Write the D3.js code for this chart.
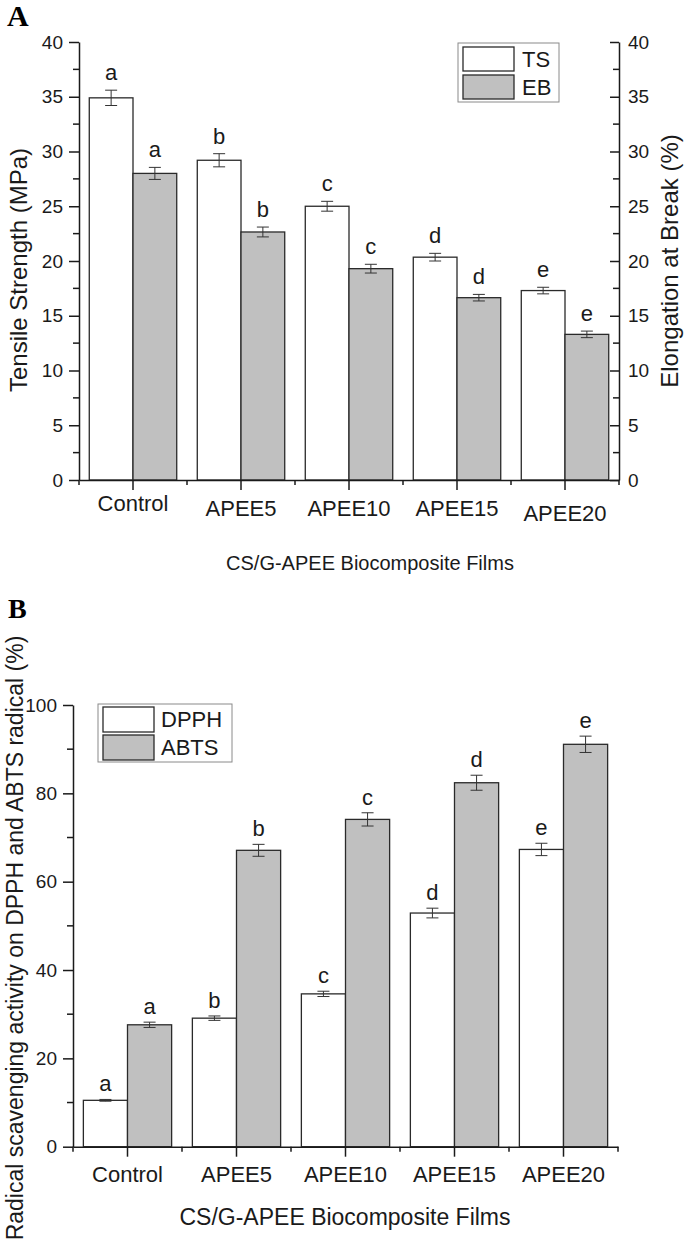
<!DOCTYPE html>
<html><head><meta charset="utf-8">
<script src="https://cdn.jsdelivr.net/npm/d3@7"></script>
<style>html,body{margin:0;padding:0;background:#fff;}svg{display:block;}</style>
</head><body>
<script>
// ---------- DATA ----------
const categories = ["Control", "APEE5", "APEE10", "APEE15", "APEE20"];
// Panel A
const tsValues = [34.9, 29.2, 25.0, 20.35, 17.3];
const tsErr    = [0.7, 0.6, 0.45, 0.35, 0.3];
const ebValues = [28.0, 22.65, 19.3, 16.65, 13.3];
const ebErr    = [0.55, 0.45, 0.4, 0.3, 0.3];
const tsLetters = ["a", "b", "c", "d", "e"];
const ebLetters = ["a", "b", "c", "d", "e"];
const aTicks = [0, 5, 10, 15, 20, 25, 30, 35, 40];
// Panel B
const dpphValues = [10.5, 29.1, 34.6, 52.9, 67.3];
const dpphErr    = [0.2, 0.5, 0.6, 1.1, 1.4];
const abtsValues = [27.6, 67.1, 74.1, 82.4, 91.1];
const abtsErr    = [0.6, 1.35, 1.5, 1.7, 1.85];
const dpphLetters = ["a", "b", "c", "d", "e"];
const abtsLetters = ["a", "b", "c", "d", "e"];
const bTicks = [0, 20, 40, 60, 80, 100];

// ---------- STYLE ----------
const FONT = "'Liberation Sans', Arial, sans-serif";
const INK = "#1a1a1a";
const GREY = "#c0c0c0";
const BAR_STROKE = "#2a2a2a";
const ERR = "#333";

const svg = d3.select("body").append("svg").attr("width", 685).attr("height", 1246);
svg.append("rect").attr("width", 685).attr("height", 1246).attr("fill", "#fff");

function panel(cfg) {
  const g = svg.append("g");
  const x = d3.scaleBand().domain(categories).range([cfg.x0, cfg.x1]).padding(0);
  const sub = d3.scaleBand().domain([0, 1]).range([0, x.bandwidth()]).paddingInner(0).paddingOuter(0.235);
  const yL = d3.scaleLinear().domain([0, cfg.yMax]).range([cfg.y0, cfg.y1]);
  const yR = cfg.yRight ? d3.scaleLinear().domain([0, cfg.yMax]).range([cfg.y0, cfg.y1]) : yL;

  const series = [
    {vals: cfg.s1, err: cfg.e1, letters: cfg.l1, fill: "#fff", y: yL},
    {vals: cfg.s2, err: cfg.e2, letters: cfg.l2, fill: GREY, y: yR}
  ];
  series.forEach((s, si) => {
    const rows = categories.map((c, i) => ({c, v: s.vals[i], e: s.err[i], l: s.letters[i]}));
    const gs = g.append("g");
    gs.selectAll("rect").data(rows).join("rect")
      .attr("x", d => x(d.c) + sub(si))
      .attr("width", sub.bandwidth())
      .attr("y", d => s.y(d.v))
      .attr("height", d => s.y(0) - s.y(d.v))
      .attr("fill", s.fill).attr("stroke", BAR_STROKE).attr("stroke-width", 1.3);
    const eb = gs.selectAll("g.err").data(rows).join("g").attr("class", "err");
    const cx = d => x(d.c) + sub(si) + sub.bandwidth() / 2;
    eb.append("line").attr("x1", cx).attr("x2", cx)
      .attr("y1", d => s.y(d.v + d.e)).attr("y2", d => s.y(d.v - d.e))
      .attr("stroke", ERR).attr("stroke-width", 1);
    [1, -1].forEach(sg => {
      eb.append("line").attr("x1", d => cx(d) - 6).attr("x2", d => cx(d) + 6)
        .attr("y1", d => s.y(d.v + sg * d.e)).attr("y2", d => s.y(d.v + sg * d.e))
        .attr("stroke", ERR).attr("stroke-width", 1);
    });
    gs.selectAll("text").data(rows).join("text")
      .attr("x", cx).attr("y", d => s.y(d.v + d.e) - cfg.letterGap)
      .attr("text-anchor", "middle").attr("font-family", FONT).attr("font-size", 22)
      .attr("fill", INK).text(d => d.l);
  });

  // left axis
  const ax = g.append("g").attr("transform", `translate(${cfg.x0},0)`)
    .call(d3.axisLeft(yL).tickValues(cfg.ticks).tickSize(10).tickPadding(6).tickSizeOuter(0));
  ax.select(".domain").attr("stroke", INK).attr("stroke-width", 1.5);
  ax.selectAll(".tick line").attr("stroke", INK).attr("stroke-width", 1.5);
  ax.selectAll(".tick text").attr("font-family", FONT).attr("font-size", 19).attr("fill", INK);
  const minorL = d3.pairs(cfg.ticks).map(p => (p[0] + p[1]) / 2);
  g.append("g").selectAll("line").data(minorL).join("line")
    .attr("x1", cfg.x0 - 6).attr("x2", cfg.x0).attr("y1", d => yL(d)).attr("y2", d => yL(d))
    .attr("stroke", INK).attr("stroke-width", 1.5);

  if (cfg.yRight) {
    const ar = g.append("g").attr("transform", `translate(${cfg.x1},0)`)
      .call(d3.axisRight(yR).tickValues(cfg.ticks).tickSize(-9).tickPadding(9).tickSizeOuter(0));
    ar.select(".domain").attr("stroke", INK).attr("stroke-width", 1.5);
    ar.selectAll(".tick line").attr("stroke", INK).attr("stroke-width", 1.5);
    ar.selectAll(".tick text").attr("font-family", FONT).attr("font-size", 19).attr("fill", INK)
      .attr("x", 9);
    g.append("g").selectAll("line").data(minorL).join("line")
      .attr("x1", cfg.x1 - 6).attr("x2", cfg.x1).attr("y1", d => yR(d)).attr("y2", d => yR(d))
      .attr("stroke", INK).attr("stroke-width", 1.5);
  }

  // bottom axis
  const axb = g.append("g").attr("transform", `translate(0,${cfg.y0})`)
    .call(d3.axisBottom(x).tickSize(10).tickSizeOuter(0).tickPadding(12));
  axb.select(".domain").attr("stroke", INK).attr("stroke-width", 1.5);
  axb.selectAll(".tick line").attr("stroke", INK).attr("stroke-width", 1.5);
  axb.selectAll(".tick text").attr("font-family", FONT).attr("font-size", 22).attr("fill", INK)
    .attr("dy", (d, i) => cfg.labelDy[i] + "px").attr("y", cfg.labelY);
  const bounds = categories.map(c => x(c)).concat([x(categories[categories.length - 1]) + x.bandwidth()]);
  g.append("g").selectAll("line").data(bounds).join("line")
    .attr("x1", d => d).attr("x2", d => d).attr("y1", cfg.y0).attr("y2", cfg.y0 + 5)
    .attr("stroke", INK).attr("stroke-width", 1.5);

  // legend
  const lg = g.append("g");
  const L = cfg.legend;
  lg.append("rect").attr("x", L.x).attr("y", L.y).attr("width", L.w).attr("height", L.h)
    .attr("fill", "#fff").attr("stroke", "#8a8a8a").attr("stroke-width", 1);
  L.items.forEach((it, i) => {
    lg.append("rect").attr("x", L.sx).attr("y", L.sy[i]).attr("width", L.sw).attr("height", L.sh)
      .attr("fill", i === 0 ? "#fff" : GREY).attr("stroke", BAR_STROKE).attr("stroke-width", 1.3);
    lg.append("text").attr("x", L.tx).attr("y", L.ty[i]).attr("font-family", FONT)
      .attr("font-size", 22).attr("fill", INK).text(it);
  });
  return g;
}

panel({
  x0: 79, x1: 619, y0: 480, y1: 42, yMax: 40, yRight: true, ticks: aTicks,
  s1: tsValues, e1: tsErr, l1: tsLetters, s2: ebValues, e2: ebErr, l2: ebLetters,
  letterGap: 10, labelY: 12, labelDy: [19, 24, 24, 24, 29],
  legend: {x: 458, y: 43, w: 101, h: 59, sx: 463, sw: 51, sh: 24, sy: [47, 75], tx: 522, ty: [67, 95], items: ["TS", "EB"]}
});

panel({
  x0: 73, x1: 618, y0: 1146.7, y1: 705, yMax: 100, yRight: false, ticks: bTicks,
  s1: dpphValues, e1: dpphErr, l1: dpphLetters, s2: abtsValues, e2: abtsErr, l2: abtsLetters,
  letterGap: 8, labelY: 12, labelDy: [23, 23, 23, 23, 23],
  legend: {x: 98, y: 704, w: 134, h: 58, sx: 103, sw: 51, sh: 25, sy: [707, 735], tx: 161, ty: [727, 755], items: ["DPPH", "ABTS"]}
});

// titles
function txt(x, y, s, size, rot) {
  const t = svg.append("text").attr("font-family", FONT).attr("font-size", size).attr("fill", INK)
    .attr("text-anchor", "middle").text(s);
  if (rot) t.attr("transform", `translate(${x},${y}) rotate(-90)`);
  else t.attr("x", x).attr("y", y);
  return t;
}
txt(370, 570, "CS/G-APEE Biocomposite Films", 20);
txt(27, 270, "Tensile Strength (MPa)", 24, true);
txt(678, 261, "Elongation at Break (%)", 24, true);
txt(345, 1225, "CS/G-APEE Biocomposite Films", 23);
txt(23, 938, "Radical scavenging activity on DPPH and ABTS radical (%)", 23, true);

svg.append("text").attr("x", 7).attr("y", 26).attr("font-family", "'Liberation Serif', 'Times New Roman', serif")
  .attr("font-weight", "bold").attr("font-size", 30).attr("fill", "#000").text("A");
svg.append("text").attr("x", 8).attr("y", 618).attr("font-family", "'Liberation Serif', 'Times New Roman', serif")
  .attr("font-weight", "bold").attr("font-size", 28).attr("fill", "#000").text("B");
</script>
</body></html>
